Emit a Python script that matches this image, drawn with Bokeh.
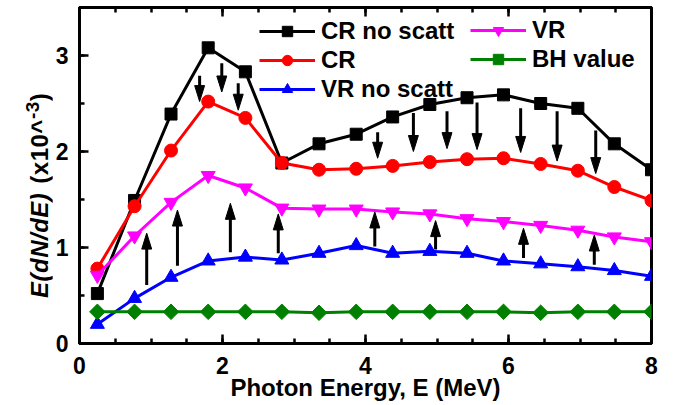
import numpy as np
from bokeh.plotting import figure
from bokeh.layouts import row
from bokeh.models import (Legend, LegendItem, LinearAxis, SingleIntervalTicker,
                          ColumnDataSource, Div)
from bokeh.embed import file_html
from bokeh.resources import INLINE

# ---------------- data ----------------
energy = [0.25, 0.77, 1.28, 1.80, 2.32, 2.83, 3.35, 3.87, 4.38, 4.90,
          5.42, 5.93, 6.45, 6.97, 7.48, 8.00]
cr_no_scatt = [0.52, 1.49, 2.39, 3.08, 2.83, 1.88, 2.08, 2.18, 2.36, 2.49,
               2.56, 2.59, 2.50, 2.45, 2.08, 1.81]
cr = [0.78, 1.43, 2.01, 2.52, 2.35, 1.88, 1.81, 1.82, 1.85, 1.89,
      1.92, 1.93, 1.87, 1.80, 1.63, 1.49]
vr_no_scatt = [0.20, 0.47, 0.69, 0.86, 0.90, 0.87, 0.94, 1.02, 0.94, 0.96,
               0.94, 0.86, 0.83, 0.80, 0.76, 0.70]
vr = [0.71, 1.12, 1.47, 1.75, 1.62, 1.41, 1.40, 1.40, 1.37, 1.35,
      1.30, 1.27, 1.23, 1.18, 1.11, 1.06]
bh_value = [0.33, 0.33, 0.33, 0.33, 0.33, 0.33, 0.32, 0.33, 0.33, 0.33,
            0.33, 0.33, 0.32, 0.33, 0.33, 0.33]

# arrows: CR no scatt -> CR (pointing down)
down_x = [1.68, 1.99, 2.22, 4.17, 4.67, 5.14, 5.56, 6.17, 6.68, 7.22]
down_from = [2.79, 2.92, 2.71, 2.20, 2.40, 2.42, 2.51, 2.45, 2.42, 2.22]
down_to = [2.52, 2.62, 2.43, 1.93, 2.00, 2.03, 2.02, 1.99, 1.90, 1.77]
# arrows: VR no scatt -> VR (pointing up)
up_x = [0.94, 1.37, 2.11, 2.78, 4.13, 4.98, 6.21, 7.20]
up_from = [0.61, 0.81, 0.95, 0.94, 1.01, 0.98, 0.89, 0.82]
up_to = [1.15, 1.39, 1.46, 1.35, 1.37, 1.28, 1.20, 1.13]

x_label = "Photon Energy, E (MeV)"
y_label_parts = ["E(dN/dE)", "(x10^", "-3", ")"]
x_ticks_interval = 2
y_ticks_interval = 1

FONT = "Liberation Sans"
LEFT_W = 52

# ---------------- main figure ----------------
p = figure(width=675 - LEFT_W, height=405, x_range=(0, 8), y_range=(0, 3.5),
           output_backend="svg", toolbar_location=None,
           min_border_left=76 - LEFT_W, min_border_right=24,
           min_border_top=7, min_border_bottom=62,
           x_axis_location=None, y_axis_location=None)
p.xgrid.grid_line_color = None
p.ygrid.grid_line_color = None
p.outline_line_color = "black"
p.outline_line_width = 3
p.background_fill_color = "white"
p.border_fill_color = "white"

PX_X = 575 / 8.0
PX_Y = 336 / 3.5


def style_axis(ax, fs="23px", standoff=10):
    ax.axis_line_width = 3
    ax.axis_line_color = "black"
    ax.major_tick_in = 9
    ax.major_tick_out = 0
    ax.minor_tick_in = 5
    ax.minor_tick_out = 0
    ax.major_tick_line_width = 2.5
    ax.minor_tick_line_width = 2.5
    ax.major_tick_line_color = "black"
    ax.minor_tick_line_color = "black"
    ax.major_label_text_font = FONT
    ax.major_label_text_font_style = "bold"
    ax.major_label_text_font_size = fs
    ax.major_label_text_color = "black"
    ax.major_label_standoff = standoff


xb = LinearAxis(ticker=SingleIntervalTicker(interval=x_ticks_interval, num_minor_ticks=4))
style_axis(xb, standoff=13)
xb.axis_label = x_label
xb.axis_label_text_font = FONT
xb.axis_label_text_font_style = "bold"
xb.axis_label_text_font_size = "24px"
xb.axis_label_text_color = "black"
xb.axis_label_standoff = -3
p.add_layout(xb, "below")

xt = LinearAxis(ticker=SingleIntervalTicker(interval=x_ticks_interval, num_minor_ticks=4))
style_axis(xt, fs="0px", standoff=0)
xt.major_label_text_color = None
p.add_layout(xt, "above")

yl = LinearAxis(ticker=SingleIntervalTicker(interval=y_ticks_interval, num_minor_ticks=2))
style_axis(yl, standoff=11)
p.add_layout(yl, "left")

# ---------------- series ----------------
series = [
    ("CR no scatt", cr_no_scatt, "black", "square", 12, 0),
    ("CR", cr, "#ff0000", "circle", 13, 0),
    ("VR no scatt", vr_no_scatt, "#0000ff", "triangle", 14, 0),
    ("VR", vr, "#ff00ff", "inverted_triangle", 14, 0),
    ("BH value", bh_value, "#008000", "square", 11, np.pi / 4),
]
items = {}
for name, vals, col, mk, sz, ang in series:
    src = ColumnDataSource(dict(x=energy, y=vals))
    lr = p.line("x", "y", source=src, line_color=col, line_width=3)
    sr = p.scatter("x", "y", source=src, marker=mk, size=sz, angle=ang,
                   fill_color=col, line_color=col)
    items[name] = LegendItem(label=name, renderers=[lr, sr])

# ---------------- arrows ----------------
HL = 16 / PX_Y   # head length (data units)
HW = 5 / PX_X    # head half width
p.segment(x0=down_x, y0=down_from, x1=down_x,
          y1=[t + HL * 0.6 for t in down_to], line_color="black", line_width=3)
p.patches(xs=[[x, x - HW, x + HW] for x in down_x],
          ys=[[t, t + HL, t + HL] for t in down_to],
          fill_color="black", line_color="black", line_width=1)
p.segment(x0=up_x, y0=up_from, x1=up_x,
          y1=[t - HL * 0.6 for t in up_to], line_color="black", line_width=3)
p.patches(xs=[[x, x - HW, x + HW] for x in up_x],
          ys=[[t, t - HL, t - HL] for t in up_to],
          fill_color="black", line_color="black", line_width=1)


# ---------------- legends ----------------
def make_legend(its, loc):
    lg = Legend(items=its, location=loc, orientation="vertical")
    lg.label_text_font = FONT
    lg.label_text_font_style = "bold"
    lg.label_text_font_size = "24px"
    lg.label_text_color = "black"
    lg.glyph_width = 56
    lg.glyph_height = 26
    lg.label_height = 26
    lg.label_standoff = 6
    lg.spacing = 1
    lg.padding = 0
    lg.margin = 0
    lg.border_line_color = None
    lg.background_fill_alpha = 0
    return lg


leg1 = make_legend([items["CR no scatt"], items["CR"], items["VR no scatt"]], (180, 240))
leg2 = make_legend([items["VR"], items["BH value"]], (391, 270))
p.add_layout(leg1)
p.add_layout(leg2)

# ---------------- y-axis title (mixed styles, rotated) ----------------
ylab_html = (
    '<div style="position:relative; width:%dpx; height:405px; overflow:visible;">'
    '<div style="position:absolute; left:28px; top:298px; transform:rotate(-90deg); '
    'transform-origin:0 0; white-space:nowrap; font-family:\'%s\'; font-weight:bold; '
    'font-size:24px; line-height:24px; letter-spacing:0.5px; color:black;">'
    '<i>%s</i><span style="margin-left:9px;">%s</span>'
    '<span style="font-size:19px; position:relative; top:-9px;">%s</span>%s'
    '</div></div>'
) % (LEFT_W, FONT, y_label_parts[0], y_label_parts[1], y_label_parts[2], y_label_parts[3])
ydiv = Div(text=ylab_html, width=LEFT_W, height=405, margin=0)

layout = row(ydiv, p, spacing=0)
open("out.html", "w").write(file_html(layout, INLINE))
